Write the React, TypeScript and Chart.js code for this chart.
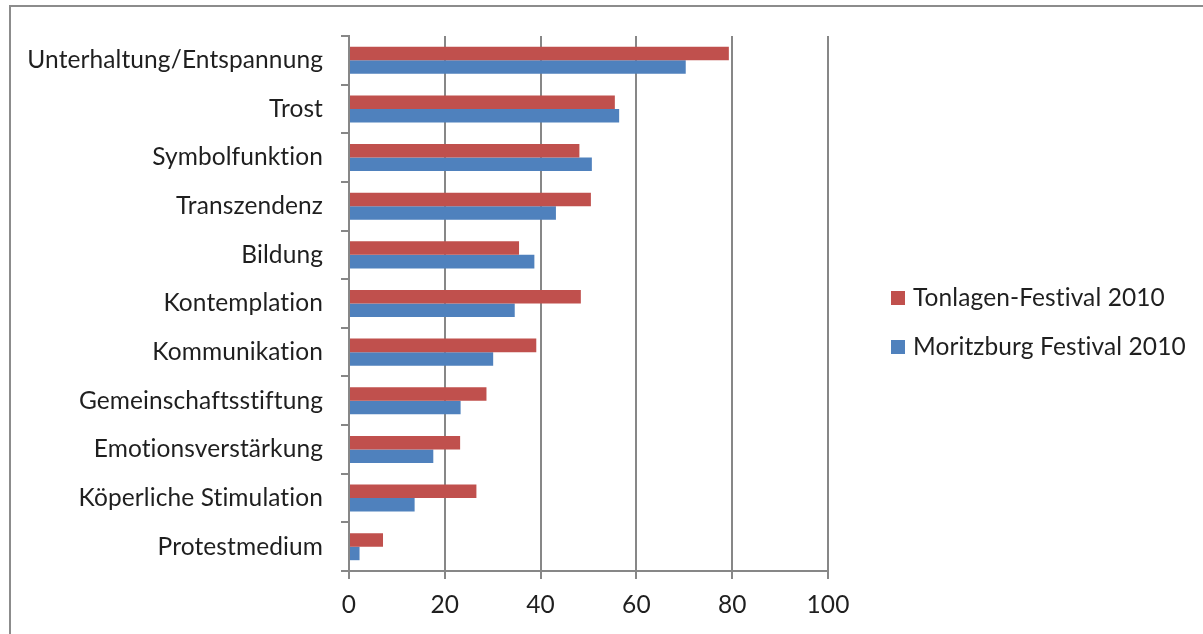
import React, { useEffect, useRef } from "react";
import { Chart, registerables } from "chart.js";

Chart.register(...registerables);

const categories = [
  "Unterhaltung/Entspannung",
  "Trost",
  "Symbolfunktion",
  "Transzendenz",
  "Bildung",
  "Kontemplation",
  "Kommunikation",
  "Gemeinschaftsstiftung",
  "Emotionsverstärkung",
  "Köperliche Stimulation",
  "Protestmedium",
];

const tonlagen = [79.3, 55.5, 48.1, 50.5, 35.5, 48.4, 39.1, 28.7, 23.2, 26.6, 7.1];
const moritzburg = [70.3, 56.4, 50.7, 43.2, 38.7, 34.6, 30.1, 23.3, 17.6, 13.7, 2.2];

const seriesLabels = ["Tonlagen-Festival 2010", "Moritzburg Festival 2010"];
const seriesColors = ["#C0504D", "#4F81BD"];
const xTicks = [0, 20, 40, 60, 80, 100];

const FONT = "Lato, 'Open Sans', sans-serif";
const FONT_SIZE = 24.5;
const GRID = "#878787";
const TEXT = "#1f1f1f";

const framePlugin = {
  id: "frame",
  beforeDraw(chart: any) {
    const ctx = chart.ctx;
    // tiny letter spacing disables Lato's "ti"/"ft" ligatures (Calibri look)
    try {
      ctx.letterSpacing = "0.1px";
    } catch (e) {}
    ctx.save();
    ctx.strokeStyle = "#8c8c8c";
    ctx.lineWidth = 2;
    ctx.beginPath();
    ctx.moveTo(10, chart.height + 2);
    ctx.lineTo(10, 6);
    ctx.lineTo(chart.width + 2, 6);
    ctx.stroke();
    ctx.restore();
  },
};

const legendPlugin = {
  id: "customLegend",
  afterDraw(chart: any) {
    const ctx = chart.ctx;
    const area = chart.chartArea;
    ctx.save();
    ctx.font = `${FONT_SIZE}px ${FONT}`;
    ctx.textBaseline = "middle";
    ctx.textAlign = "left";
    chart.data.datasets.forEach((ds: any, i: number) => {
      const cy = area.top + 262 + i * 49;
      const bx = area.right + 63;
      ctx.fillStyle = ds.backgroundColor;
      ctx.fillRect(bx, cy - 7, 14, 14);
      ctx.fillStyle = TEXT;
      ctx.fillText(ds.label, bx + 22, cy);
    });
    ctx.restore();
  },
};

export default function App() {
  const ref = useRef<HTMLCanvasElement | null>(null);

  useEffect(() => {
    if (!ref.current) return;
    const chart = new Chart(ref.current, {
      type: "bar",
      data: {
        labels: categories,
        datasets: [
          {
            label: seriesLabels[0],
            data: tonlagen,
            backgroundColor: seriesColors[0],
            categoryPercentage: 0.556,
            barPercentage: 1,
          },
          {
            label: seriesLabels[1],
            data: moritzburg,
            backgroundColor: seriesColors[1],
            categoryPercentage: 0.556,
            barPercentage: 1,
          },
        ],
      },
      options: {
        indexAxis: "y",
        animation: false,
        responsive: false,
        maintainAspectRatio: false,
        layout: { padding: { left: 0, right: 375, top: 36, bottom: 0 } },
        plugins: {
          legend: { display: false },
          tooltip: { enabled: false },
        },
        scales: {
          x: {
            min: 0,
            max: 100,
            afterBuildTicks(scale: any) {
              scale.ticks = xTicks.map((v) => ({ value: v }));
            },
            afterFit(scale: any) {
              scale.height = 63;
            },
            grid: {
              color: GRID,
              lineWidth: 2,
              drawTicks: true,
              tickLength: 8,
              tickColor: GRID,
            },
            border: { color: GRID, width: 2 },
            ticks: {
              color: TEXT,
              font: { family: FONT, size: FONT_SIZE },
              padding: 11,
              maxRotation: 0,
            },
          },
          y: {
            afterFit(scale: any) {
              scale.width = 349;
            },
            grid: {
              display: true,
              drawOnChartArea: false,
              drawTicks: true,
              tickLength: 8,
              color: GRID,
              lineWidth: 2,
              offset: true,
            },
            border: { color: GRID, width: 2 },
            ticks: {
              color: TEXT,
              font: { family: FONT, size: FONT_SIZE },
              padding: 18,
              autoSkip: false,
            },
          },
        },
      },
      plugins: [framePlugin, legendPlugin],
    });
    return () => chart.destroy();
  }, []);

  return (
    <div style={{ position: "fixed", left: 0, top: 0, width: 1203, height: 634, background: "#fff" }}>
      <canvas ref={ref} width={1203} height={634} style={{ display: "block" }} />
    </div>
  );
}
